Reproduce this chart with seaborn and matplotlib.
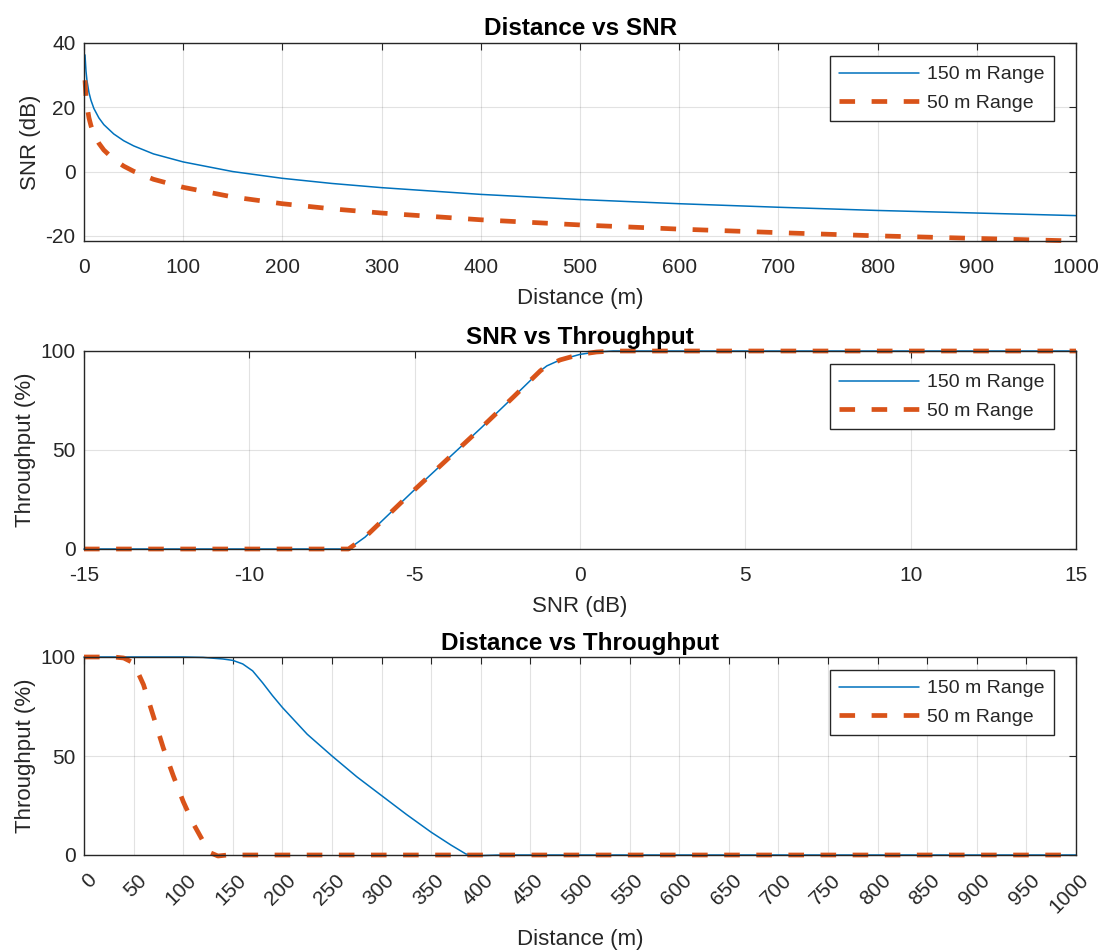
import matplotlib
matplotlib.use("Agg")
import matplotlib.pyplot as plt
import matplotlib.transforms as mtransforms
import seaborn as sns
import pandas as pd

# Distance vs SNR
dist_snr = [1, 2, 3, 5, 7, 10, 15, 20, 30, 40, 50, 70, 100, 150, 200, 250,
            300, 400, 500, 600, 700, 800, 900, 1000]
snr_150 = [36.3, 31.3, 28.3, 24.6, 22.2, 19.6, 16.7, 14.6, 11.7, 9.6, 8.0, 5.5,
           3.0, 0.0, -2.1, -3.7, -5.0, -7.1, -8.7, -10.0, -11.1, -12.1, -12.9, -13.7]
snr_50 = [28.4, 23.4, 20.4, 16.7, 14.3, 11.7, 8.8, 6.7, 3.8, 1.7, 0.1, -2.4,
          -4.9, -7.9, -10.0, -11.6, -12.9, -15.0, -16.6, -17.9, -19.0, -20.0, -20.8, -21.6]

# SNR vs Throughput
snr_axis = [-15, -7, -6.5, -6, -5, -4, -3, -2, -1.2, -1, -0.6, 0, 0.5, 1, 15]
tput_150 = [0, 0, 6, 14, 30, 45.5, 61, 77, 90, 92.5, 95.5, 98.3, 99.5, 100, 100]
tput_50 = [0, 0, 6, 14, 30, 45.5, 61, 77, 90, 92.5, 95.5, 98.3, 99.5, 100, 100]

# Distance vs Throughput
dist_150 = [0, 50, 100, 120, 140, 150, 160, 170, 180, 190, 200, 225, 250, 275,
            300, 325, 350, 370, 385, 400, 420, 1000]
dtput_150 = [100, 100, 100, 99.8, 99, 98.3, 96.5, 93, 87, 80.5, 74.5, 61, 50, 39.5,
             30, 20.5, 11.5, 5, 0.5, -0.3, 0, 0]
dist_50 = [0, 30, 40, 50, 60, 70, 80, 90, 100, 110, 120, 128, 135, 145, 1000]
dtput_50 = [100, 100, 99.5, 97, 86, 70, 54, 40, 27, 16, 7, 1, -0.5, 0, 0]

labels = ["150 m Range", "50 m Range"]

sns.set_theme(style="whitegrid")
plt.rcParams['font.family'] = ['Liberation Sans', 'DejaVu Sans']
plt.rcParams['axes.unicode_minus'] = False

blue = "#0072BD"
orange = "#D95319"
dark = "#262626"

fig = plt.figure(figsize=(11.02, 9.51), dpi=100)
W, H = 1102, 951
boxes = [(84, 43), (84, 351), (84, 657)]
axes = []
for (x0, y0) in boxes:
    ax = fig.add_axes([x0 / W, 1 - (y0 + 198) / H, 992 / W, 198 / H])
    axes.append(ax)


def draw(ax, x1, y1, x2, y2):
    sns.lineplot(x=x1, y=y1, ax=ax, color=blue, linewidth=1.1, label=labels[0],
                 clip_on=False, sort=False)
    sns.lineplot(x=x2, y=y2, ax=ax, color=orange, linewidth=3.4, label=labels[1],
                 clip_on=False, sort=False)
    ax.lines[1].set_dashes((3.3, 3.5))
    ax.set_facecolor("white")
    ax.grid(True, color="#262626", alpha=0.13, linewidth=0.8)
    for s in ax.spines.values():
        s.set_color(dark)
        s.set_linewidth(1.0)
        s.set_visible(True)
    ax.tick_params(direction="in", top=True, right=True, length=5, width=0.8,
                   color=dark, labelcolor=dark, labelsize=15)
    ax.tick_params(axis="x", pad=12)
    ax.tick_params(axis="y", pad=6)
    leg = ax.legend(loc="upper right", bbox_to_anchor=(1 - 22 / 992, 1 - 13 / 198),
                    borderaxespad=0, fancybox=False, framealpha=1, edgecolor=dark,
                    fontsize=14, handlelength=4.1, handletextpad=0.4,
                    borderpad=0.5, labelspacing=0.55)
    leg.get_frame().set_linewidth(1.0)
    for t in leg.get_texts():
        t.set_color(dark)


ax1, ax2, ax3 = axes

draw(ax1, dist_snr, snr_150, dist_snr, snr_50)
ax1.set_xlim(0, 1000)
ax1.set_ylim(-21.6, 40)
ax1.set_xticks(range(0, 1001, 100))
ax1.set_yticks([-20, 0, 20, 40])
ax1.set_title("Distance vs SNR", fontsize=17.5, fontweight="bold", color="black", pad=6)
ax1.set_xlabel("Distance (m)", fontsize=16, color=dark)
ax1.set_ylabel("SNR (dB)", fontsize=16, color=dark)
ax1.xaxis.set_label_coords(0.5, -0.235)
ax1.yaxis.set_label_coords(-0.043, 0.5)

draw(ax2, snr_axis, tput_150, snr_axis, tput_50)
ax2.set_xlim(-15, 15)
ax2.set_ylim(0, 100)
ax2.set_xticks(range(-15, 16, 5))
ax2.set_yticks([0, 50, 100])
ax2.set_title("SNR vs Throughput", fontsize=17.5, fontweight="bold", color="black", pad=5)
ax2.set_xlabel("SNR (dB)", fontsize=16, color=dark)
ax2.set_ylabel("Throughput (%)", fontsize=16, color=dark)
ax2.xaxis.set_label_coords(0.5, -0.235)
ax2.yaxis.set_label_coords(-0.048, 0.5)

draw(ax3, dist_150, dtput_150, dist_50, dtput_50)
ax3.set_xlim(0, 1000)
ax3.set_ylim(0, 100)
ax3.set_xticks(range(0, 1001, 50))
ax3.set_yticks([0, 50, 100])
ax3.set_title("Distance vs Throughput", fontsize=17.5, fontweight="bold", color="black", pad=5)
ax3.set_xlabel("Distance (m)", fontsize=16, color=dark)
ax3.set_ylabel("Throughput (%)", fontsize=16, color=dark)
ax3.xaxis.set_label_coords(0.5, -0.375)
ax3.yaxis.set_label_coords(-0.048, 0.5)
ax3.tick_params(axis="x", pad=16)
shift = mtransforms.ScaledTranslation(10 / 100, 0, fig.dpi_scale_trans)
for lab in ax3.get_xticklabels():
    lab.set_rotation(45)
    lab.set_ha("right")
    lab.set_va("center")
    lab.set_rotation_mode("anchor")
    lab.set_transform(lab.get_transform() + shift)

fig.savefig("out.png", dpi=100, facecolor="white")
